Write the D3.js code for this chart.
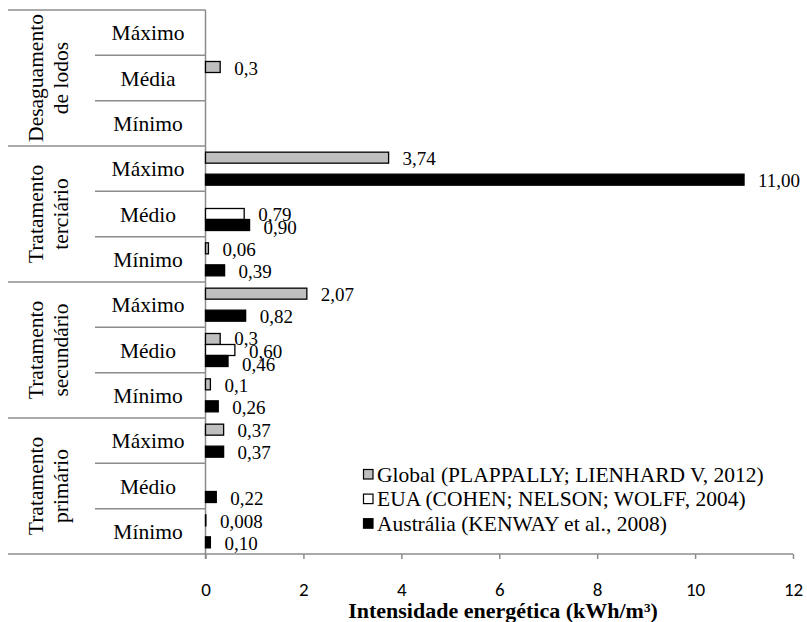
<!DOCTYPE html>
<html>
<head>
<meta charset="utf-8">
<script src="https://cdn.jsdelivr.net/npm/d3@7"></script>
<style>
  html, body { margin: 0; padding: 0; background: #fff; }
  svg { display: block; }
  .serif { font-family: "Liberation Serif", "Tinos", "Times New Roman", Times, "DejaVu Serif", serif; }
  .sans { font-family: Carlito, Lato, "Open Sans", sans-serif; }
</style>
</head>
<body>
<svg id="chart" width="807" height="622"></svg>
<script>
// Treatment stages (outer axis level) and their sub-rows, top to bottom
const groups = ["Desaguamento\nde lodos", "Tratamento\nterciário", "Tratamento\nsecundário", "Tratamento\nprimário"];
const subLabels = [
  ["Máximo", "Média", "Mínimo"],
  ["Máximo", "Médio", "Mínimo"],
  ["Máximo", "Médio", "Mínimo"],
  ["Máximo", "Médio", "Mínimo"]
];

// Energy intensity (kWh/m³) as printed; empty string = no value
const seriesNames = [
  "Global (PLAPPALLY; LIENHARD V, 2012)",
  "EUA (COHEN; NELSON; WOLFF, 2004)",
  "Austrália (KENWAY et al., 2008)"
];
const globalValues    = ["", "0,3", "", "3,74", "", "0,06", "2,07", "0,3", "0,1", "0,37", "", "0,008"];
const euaValues       = ["", "", "", "", "0,79", "", "", "0,60", "", "", "", ""];
const australiaValues = ["", "", "", "11,00", "0,90", "0,39", "0,82", "0,46", "0,26", "0,37", "0,22", "0,10"];
const seriesValues = [globalValues, euaValues, australiaValues];
const seriesFill = ["#bfbfbf", "#ffffff", "#000000"];

const xTicks = [0, 2, 4, 6, 8, 10, 12];

const svg = d3.select("#chart");
const gridColor = "#8c8c8c";

// Row keys: one per sub-row
const rows = [];
groups.forEach((g, gi) => subLabels[gi].forEach((s, si) => rows.push({ key: gi + "-" + si, group: gi, sub: si, label: s })));

const x = d3.scaleLinear().domain([0, 12]).range([205.5, 793]);
const y = d3.scaleBand().domain(rows.map(r => r.key)).range([10, 554]).paddingInner(0).paddingOuter(0);
const ySub = d3.scaleBand().domain(d3.range(seriesNames.length)).range([0, y.bandwidth()]).paddingInner(0).paddingOuter(0.56);

const parse = s => +s.replace(",", ".");

// Bottom value axis
const xAxis = d3.axisBottom(x).tickValues(xTicks).tickSize(5).tickFormat(d => d);
const gx = svg.append("g").attr("transform", "translate(0,554)").call(xAxis);
gx.attr("font-family", null).attr("font-size", null);
gx.select(".domain").remove();
gx.selectAll(".tick line").attr("stroke", gridColor).attr("stroke-width", 1.5);
gx.selectAll(".tick text")
  .attr("class", "sans")
  .attr("y", 35)
  .attr("dy", "0.35em")
  .style("font-size", "19px")
  .attr("fill", "#000");
svg.append("line")
  .attr("x1", 8).attr("x2", x(12)).attr("y1", 554).attr("y2", 554)
  .attr("stroke", gridColor).attr("stroke-width", 1.5);

// Category axis line
svg.append("line")
  .attr("x1", x(0)).attr("x2", x(0)).attr("y1", 10).attr("y2", 559)
  .attr("stroke", gridColor).attr("stroke-width", 1.5);

// Multi-level category separators: full width at stage boundaries, short between sub-rows
rows.forEach(r => {
  const top = y(r.key);
  svg.append("line")
    .attr("x1", r.sub === 0 ? 8 : 95).attr("x2", x(0))
    .attr("y1", top).attr("y2", top)
    .attr("stroke", gridColor).attr("stroke-width", 1.5);
});

// Sub-row labels
svg.append("g").selectAll("text").data(rows).join("text")
  .attr("class", "serif")
  .attr("x", 148)
  .attr("y", d => y(d.key) + y.bandwidth() / 2)
  .attr("dy", "0.35em")
  .attr("text-anchor", "middle")
  .style("font-size", "21.5px")
  .text(d => d.label);

// Stage labels, rotated, two lines
groups.forEach((g, gi) => {
  const groupRows = rows.filter(r => r.group === gi);
  const top = y(groupRows[0].key);
  const bottom = y(groupRows[groupRows.length - 1].key) + y.bandwidth();
  const t = svg.append("text")
    .attr("class", "serif")
    .attr("transform", `translate(0,${(top + bottom) / 2}) rotate(-90)`)
    .attr("text-anchor", "middle")
    .style("font-size", "21.5px");
  g.split("\n").forEach((line, li) => {
    t.append("tspan").attr("x", 0).attr("y", 43 + li * 25).text(line);
  });
});

// Bars and value labels
const barData = [];
seriesValues.forEach((vals, si) => vals.forEach((v, ri) => {
  if (v !== "") barData.push({ series: si, row: rows[ri].key, text: v, value: parse(v) });
}));

svg.append("g").selectAll("rect").data(barData).join("rect")
  .attr("x", x(0))
  .attr("y", d => y(d.row) + ySub(d.series))
  .attr("width", d => x(d.value) - x(0))
  .attr("height", ySub.bandwidth())
  .attr("fill", d => seriesFill[d.series])
  .attr("stroke", "#000")
  .attr("stroke-width", 1.3);

// Label positions: bar centre, spread apart when labels of one row sit too close
barData.forEach(d => { d.ly = y(d.row) + ySub(d.series) + ySub.bandwidth() / 2 + 1; });
d3.groups(barData, d => d.row).forEach(([, items]) => {
  items.sort((a, b) => a.ly - b.ly);
  const minGap = 13;
  for (let i = 1; i < items.length; i++) {
    const gap = items[i].ly - items[i - 1].ly;
    if (gap < minGap) {
      const push = (minGap - gap) / 2;
      for (let j = 0; j < i; j++) items[j].ly -= push;
      for (let j = i; j < items.length; j++) items[j].ly += push;
    }
  }
});

svg.append("g").selectAll("text").data(barData).join("text")
  .attr("class", "serif")
  .attr("x", d => x(d.value) + 14)
  .attr("y", d => d.ly)
  .attr("dy", "0.35em")
  .style("font-size", "19px")
  .text(d => d.text);

// Legend
const legend = svg.append("g").attr("transform", "translate(363,474)");
seriesNames.forEach((name, i) => {
  const row = legend.append("g").attr("transform", `translate(0,${i * 24.6})`);
  row.append("rect")
    .attr("x", 0.5).attr("y", -4.5).attr("width", 9.5).attr("height", 9.5)
    .attr("fill", seriesFill[i]).attr("stroke", "#000").attr("stroke-width", 1.2);
  row.append("text")
    .attr("class", "serif")
    .attr("x", 14).attr("y", 0).attr("dy", "0.35em")
    .style("font-size", "21.5px")
    .text(name);
});

// Axis title
svg.append("text")
  .attr("class", "serif")
  .attr("x", 503).attr("y", 618)
  .attr("text-anchor", "middle")
  .style("font-size", "22px")
  .style("font-weight", "bold")
  .text("Intensidade energética (kWh/m³)");
</script>
</body>
</html>
